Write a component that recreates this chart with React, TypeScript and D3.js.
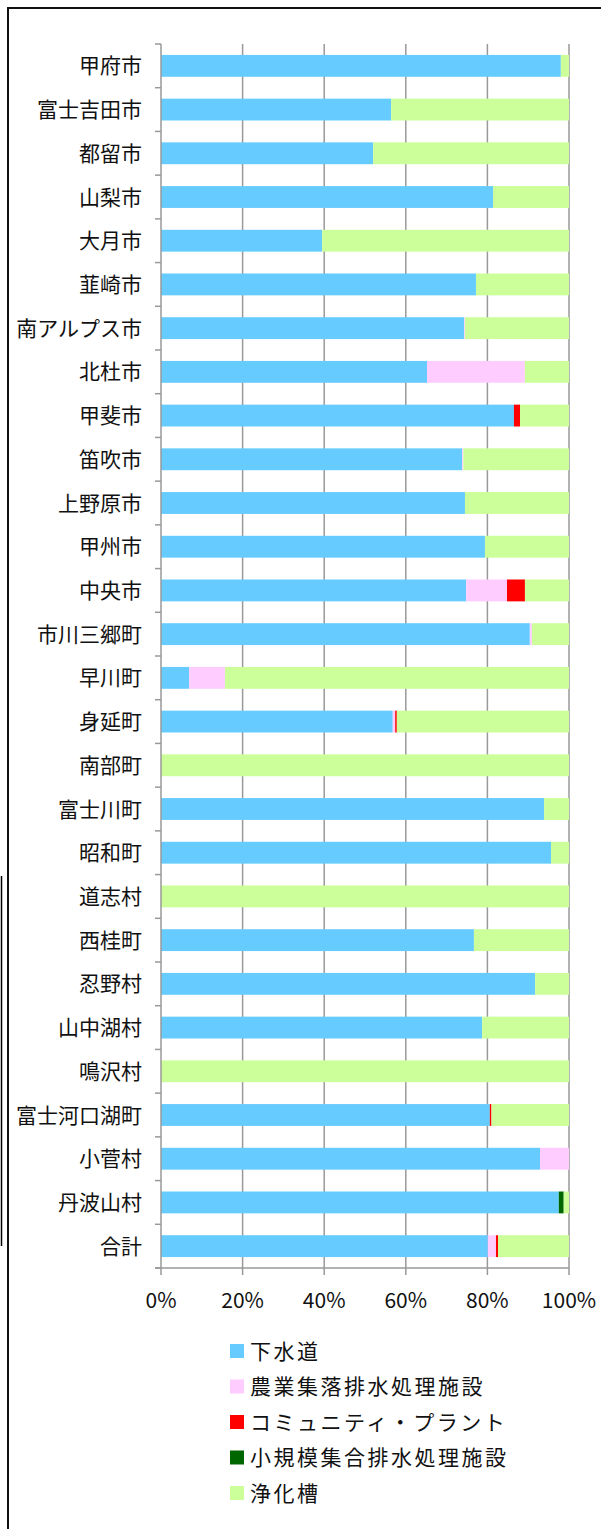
import { useEffect, useRef } from 'react';
import * as d3 from 'd3';

const categories = [
  '甲府市', '富士吉田市', '都留市', '山梨市', '大月市', '韮崎市', '南アルプス市',
  '北杜市', '甲斐市', '笛吹市', '上野原市', '甲州市', '中央市', '市川三郷町',
  '早川町', '身延町', '南部町', '富士川町', '昭和町', '道志村', '西桂町',
  '忍野村', '山中湖村', '鳴沢村', '富士河口湖町', '小菅村', '丹波山村', '合計',
];

const seriesNames = ['下水道', '農業集落排水処理施設', 'コミュニティ・プラント', '小規模集合排水処理施設', '浄化槽'];
const seriesColors = ['#66CCFF', '#FFCCFF', '#FF0000', '#006600', '#CCFF99'];

const sewer = [98.0, 56.4, 52.0, 81.4, 39.5, 77.2, 74.3, 65.2, 86.5, 73.8, 74.5, 79.4, 74.8, 90.4,
  6.9, 56.8, 0, 93.9, 95.6, 0, 76.7, 91.7, 78.7, 0, 80.6, 92.9, 97.5, 80.1];
const agri = [0, 0, 0, 0, 0, 0, 0.2, 24.0, 0, 0.3, 0, 0, 10.0, 0.5,
  8.8, 0.6, 0, 0, 0, 0, 0, 0, 0, 0, 0, 7.1, 0, 2.0];
const community = [0, 0, 0, 0, 0, 0, 0, 0, 1.5, 0, 0, 0, 4.4, 0,
  0, 0.4, 0, 0, 0, 0, 0, 0, 0, 0, 0.4, 0, 0, 0.5];
const smallScale = [0, 0, 0, 0, 0, 0, 0, 0, 0, 0, 0, 0, 0, 0,
  0, 0, 0, 0, 0, 0, 0, 0, 0, 0, 0, 0, 1.2, 0];
const septic = [2.0, 43.6, 48.0, 18.6, 60.5, 22.8, 25.5, 10.8, 12.0, 25.9, 25.5, 20.6, 10.8, 9.1,
  84.3, 42.2, 100, 6.1, 4.4, 100, 23.3, 8.3, 21.3, 100, 19.0, 0, 1.3, 17.4];

const xTicks = [0, 20, 40, 60, 80, 100];

const font = '"Noto Sans CJK JP", "Noto Sans", sans-serif';

export default function App() {
  const svgRef = useRef<SVGSVGElement>(null);

  useEffect(() => {
    if (!svgRef.current) return;
    const svg = d3.select(svgRef.current);
    svg.selectAll('*').remove();

    const left = 161;
    const right = 569;
    const top = 44;
    const bottom = 1268;

    const x = d3.scaleLinear().domain([0, 100]).range([left, right]);
    const y = d3.scaleBand<string>().domain(categories).range([top, bottom]).paddingInner(0.5).paddingOuter(0.25);

    // frame
    svg.append('rect')
      .attr('x', 8).attr('y', 8).attr('width', 620).attr('height', 1560)
      .attr('fill', 'none').attr('stroke', '#111').attr('stroke-width', 2);
    svg.append('line')
      .attr('x1', 1.5).attr('x2', 1.5).attr('y1', 876).attr('y2', 1246)
      .attr('stroke', '#000').attr('stroke-width', 1.5);

    // gridlines
    svg.append('g').selectAll('line').data(xTicks.slice(1)).join('line')
      .attr('x1', (d) => x(d)).attr('x2', (d) => x(d))
      .attr('y1', top).attr('y2', bottom)
      .attr('stroke', '#999').attr('stroke-width', 1.5);

    // stacked bars
    const rows = categories.map((c, i) => ({
      cat: c, vals: [sewer[i], agri[i], community[i], smallScale[i], septic[i]],
    }));
    const g = svg.append('g');
    rows.forEach((r) => {
      let acc = 0;
      r.vals.forEach((v, k) => {
        if (v > 0) {
          g.append('rect')
            .attr('x', x(acc))
            .attr('y', y(r.cat)!)
            .attr('width', x(acc + v) - x(acc))
            .attr('height', y.bandwidth())
            .attr('fill', seriesColors[k]);
        }
        acc += v;
      });
    });

    // y axis
    svg.append('line')
      .attr('x1', left).attr('x2', left).attr('y1', top).attr('y2', bottom)
      .attr('stroke', '#999').attr('stroke-width', 1.5);
    const step = (bottom - top) / categories.length;
    svg.append('g').selectAll('line').data(d3.range(categories.length + 1)).join('line')
      .attr('x1', left - 6).attr('x2', left)
      .attr('y1', (d) => top + d * step).attr('y2', (d) => top + d * step)
      .attr('stroke', '#999').attr('stroke-width', 1.5);
    svg.append('g').selectAll('text').data(categories).join('text')
      .attr('x', 142)
      .attr('y', (d) => y(d)! + y.bandwidth() / 2)
      .attr('dy', '0.36em')
      .attr('text-anchor', 'end')
      .attr('font-family', font)
      .attr('font-size', 21)
      .attr('fill', '#111')
      .text((d) => d);

    // x axis
    svg.append('line')
      .attr('x1', left - 6).attr('x2', right).attr('y1', bottom).attr('y2', bottom)
      .attr('stroke', '#999').attr('stroke-width', 1.5);
    svg.append('g').selectAll('line').data(xTicks).join('line')
      .attr('x1', (d) => x(d)).attr('x2', (d) => x(d))
      .attr('y1', bottom).attr('y2', bottom + 7)
      .attr('stroke', '#999').attr('stroke-width', 1.5);
    svg.append('g').selectAll('text').data(xTicks).join('text')
      .attr('x', (d) => x(d))
      .attr('y', 1300)
      .attr('dy', '0.36em')
      .attr('text-anchor', 'middle')
      .attr('font-family', font)
      .attr('font-size', 21)
      .attr('fill', '#111')
      .text((d) => `${d}%`);

    // legend
    const lg = svg.append('g');
    seriesNames.forEach((name, i) => {
      const ly = 1351 + i * 35.5;
      lg.append('rect')
        .attr('x', 230).attr('y', ly - 7).attr('width', 14).attr('height', 14)
        .attr('fill', seriesColors[i]);
      lg.append('text')
        .attr('x', 250).attr('y', ly)
        .attr('dy', '0.36em')
        .attr('font-family', font)
        .attr('font-size', 21)
        .attr('letter-spacing', 2.5)
        .attr('fill', '#111')
        .text(name);
    });
  }, []);

  return (
    <svg ref={svgRef} width={601} height={1529}
      style={{ position: 'absolute', left: 0, top: 0, background: '#fff' }} />
  );
}
